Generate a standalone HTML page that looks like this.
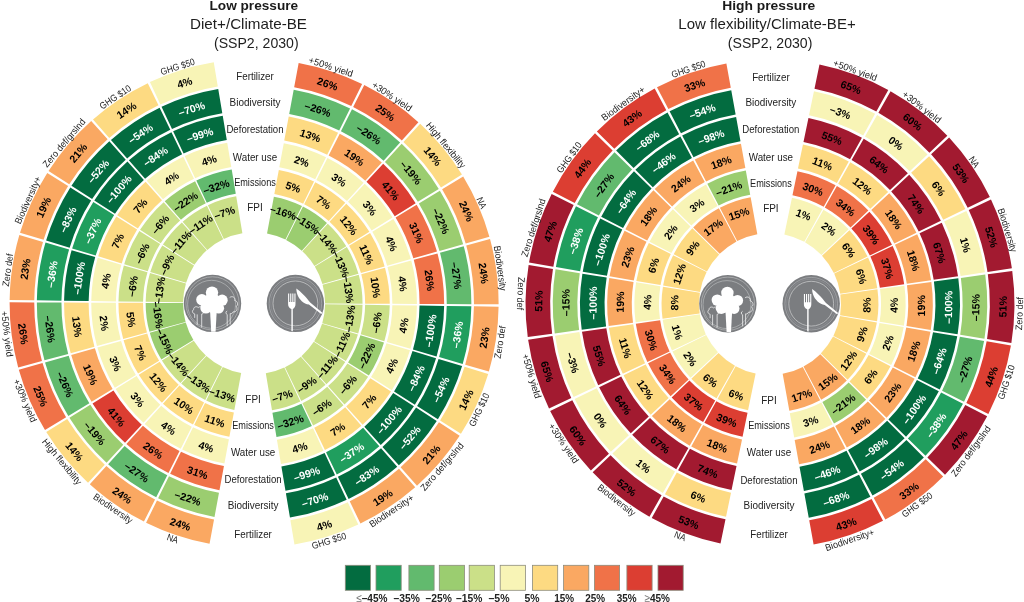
<!DOCTYPE html>
<html><head><meta charset="utf-8"><title>Low pressure / High pressure</title>
<style>
html,body{margin:0;padding:0;background:#fff}
svg{display:block}
text{font-family:"Liberation Sans",sans-serif;}
.v text{font-weight:bold;font-size:10.6px;text-anchor:middle}
.v text.lab{font-weight:normal;font-size:9.5px;fill:#222}
.rl{font-size:11px;text-anchor:middle;fill:#222}
.tb{font-weight:bold;font-size:12.6px;text-anchor:middle;fill:#1a1a1a}
.tt{font-size:14.2px;text-anchor:middle;fill:#1e1e1e}
.lg{font-weight:bold;font-size:11.6px;fill:#222}
.gl{font-weight:normal;fill:#777}
</style></head><body>
<svg width="1024" height="602" viewBox="0 0 1024 602">
<rect width="1024" height="602" fill="#fff"/>
<g>
<path d="M298.66 62.89A244.5 244.5 0 0 1 362.12 83.96L351.23 106.07A219.85 219.85 0 0 0 294.16 87.13Z" fill="#f07248"/>
<path d="M293.69 89.69A217.25 217.25 0 0 1 350.09 108.4L339.22 130.47A192.65 192.65 0 0 0 289.21 113.88Z" fill="#62ba6e"/>
<path d="M288.73 116.43A190.05 190.05 0 0 1 338.07 132.81L327.2 154.87A165.45 165.45 0 0 0 284.25 140.62Z" fill="#fdda82"/>
<path d="M283.78 143.18A162.85 162.85 0 0 1 326.05 157.21L315.18 179.28A138.25 138.25 0 0 0 279.29 167.37Z" fill="#f8f4b6"/>
<path d="M278.82 169.92A135.65 135.65 0 0 1 314.03 181.61L303.16 203.68A111.05 111.05 0 0 0 274.34 194.11Z" fill="#fdda82"/>
<path d="M273.86 196.67A108.45 108.45 0 0 1 302.02 206.01L285.47 239.61A71 71 0 0 0 267.04 233.49Z" fill="#9bcd70"/>
<path d="M364.26 85.02A244.5 244.5 0 0 1 418.4 122.23L401.83 140.49A219.85 219.85 0 0 0 353.16 107.03Z" fill="#f07248"/>
<path d="M351.99 109.35A217.25 217.25 0 0 1 400.09 142.41L383.56 160.63A192.65 192.65 0 0 0 340.9 131.31Z" fill="#62ba6e"/>
<path d="M339.73 133.63A190.05 190.05 0 0 1 381.81 162.55L365.28 180.77A165.45 165.45 0 0 0 328.65 155.6Z" fill="#faa862"/>
<path d="M327.47 157.92A162.85 162.85 0 0 1 363.53 182.7L347 200.92A138.25 138.25 0 0 0 316.39 179.88Z" fill="#f8f4b6"/>
<path d="M315.22 182.2A135.65 135.65 0 0 1 345.25 202.84L328.72 221.06A111.05 111.05 0 0 0 304.14 204.16Z" fill="#fdda82"/>
<path d="M302.96 206.48A108.45 108.45 0 0 1 326.98 222.99L301.81 250.72A71 71 0 0 0 286.09 239.92Z" fill="#9bcd70"/>
<path d="M420.16 123.85A244.5 244.5 0 0 1 461.94 174.53L440.99 187.51A219.85 219.85 0 0 0 403.42 141.94Z" fill="#fdda82"/>
<path d="M401.65 143.85A217.25 217.25 0 0 1 438.78 188.88L417.87 201.84A192.65 192.65 0 0 0 384.95 161.9Z" fill="#9bcd70"/>
<path d="M383.18 163.81A190.05 190.05 0 0 1 415.66 203.21L394.75 216.16A165.45 165.45 0 0 0 366.47 181.87Z" fill="#dc3e32"/>
<path d="M364.71 183.77A162.85 162.85 0 0 1 392.53 217.53L371.62 230.49A138.25 138.25 0 0 0 348 201.83Z" fill="#f8f4b6"/>
<path d="M346.23 203.74A135.65 135.65 0 0 1 369.41 231.86L348.5 244.81A111.05 111.05 0 0 0 329.52 221.79Z" fill="#fdda82"/>
<path d="M327.76 223.7A108.45 108.45 0 0 1 346.29 246.18L314.46 265.91A71 71 0 0 0 302.32 251.19Z" fill="#cbe088"/>
<path d="M463.19 176.57A244.5 244.5 0 0 1 489.39 236.81L465.66 243.51A219.85 219.85 0 0 0 442.11 189.35Z" fill="#faa862"/>
<path d="M439.89 190.69A217.25 217.25 0 0 1 463.16 244.22L439.49 250.91A192.65 192.65 0 0 0 418.85 203.44Z" fill="#9bcd70"/>
<path d="M416.63 204.79A190.05 190.05 0 0 1 436.99 251.62L413.31 258.31A165.45 165.45 0 0 0 395.59 217.54Z" fill="#f07248"/>
<path d="M393.37 218.89A162.85 162.85 0 0 1 410.81 259.01L387.14 265.7A138.25 138.25 0 0 0 372.33 231.64Z" fill="#f8f4b6"/>
<path d="M370.11 232.99A135.65 135.65 0 0 1 384.64 266.41L360.96 273.1A111.05 111.05 0 0 0 349.07 245.74Z" fill="#fdda82"/>
<path d="M346.84 247.09A108.45 108.45 0 0 1 358.46 273.81L322.42 283.99A71 71 0 0 0 314.82 266.5Z" fill="#cbe088"/>
<path d="M490.02 239.11A244.5 244.5 0 0 1 498.6 304.24L473.95 304.14A219.85 219.85 0 0 0 466.24 245.58Z" fill="#faa862"/>
<path d="M463.73 246.27A217.25 217.25 0 0 1 471.35 304.13L446.75 304.04A192.65 192.65 0 0 0 439.99 252.72Z" fill="#62ba6e"/>
<path d="M437.48 253.41A190.05 190.05 0 0 1 444.15 304.03L419.55 303.94A165.45 165.45 0 0 0 413.75 259.87Z" fill="#f07248"/>
<path d="M411.24 260.55A162.85 162.85 0 0 1 416.95 303.93L392.35 303.83A138.25 138.25 0 0 0 387.5 267.01Z" fill="#f8f4b6"/>
<path d="M384.99 267.69A135.65 135.65 0 0 1 389.75 303.82L365.15 303.73A111.05 111.05 0 0 0 361.25 274.15Z" fill="#fdda82"/>
<path d="M358.75 274.83A108.45 108.45 0 0 1 362.55 303.72L325.1 303.57A71 71 0 0 0 322.61 284.66Z" fill="#cbe088"/>
<path d="M498.58 306.63A244.5 244.5 0 0 1 488.87 371.6L465.2 364.71A219.85 219.85 0 0 0 473.93 306.29Z" fill="#faa862"/>
<path d="M471.33 306.26A217.25 217.25 0 0 1 462.7 363.98L439.08 357.11A192.65 192.65 0 0 0 446.73 305.92Z" fill="#209e5e"/>
<path d="M444.13 305.89A190.05 190.05 0 0 1 436.59 356.39L412.96 349.51A165.45 165.45 0 0 0 419.53 305.55Z" fill="#036c40"/>
<path d="M416.93 305.52A162.85 162.85 0 0 1 410.47 348.79L386.85 341.92A138.25 138.25 0 0 0 392.34 305.18Z" fill="#f8f4b6"/>
<path d="M389.74 305.15A135.65 135.65 0 0 1 384.35 341.19L360.73 334.32A111.05 111.05 0 0 0 365.14 304.81Z" fill="#cbe088"/>
<path d="M362.54 304.78A108.45 108.45 0 0 1 358.23 333.59L322.27 323.13A71 71 0 0 0 325.09 304.27Z" fill="#cbe088"/>
<path d="M488.19 373.89A244.5 244.5 0 0 1 460.95 433.66L440.09 420.52A219.85 219.85 0 0 0 464.59 366.77Z" fill="#fdda82"/>
<path d="M462.1 366.02A217.25 217.25 0 0 1 437.9 419.13L417.08 406.02A192.65 192.65 0 0 0 438.55 358.92Z" fill="#036c40"/>
<path d="M436.06 358.17A190.05 190.05 0 0 1 414.88 404.63L394.07 391.51A165.45 165.45 0 0 0 412.51 351.07Z" fill="#036c40"/>
<path d="M410.02 350.31A162.85 162.85 0 0 1 391.87 390.13L371.06 377.01A138.25 138.25 0 0 0 386.46 343.21Z" fill="#f8f4b6"/>
<path d="M383.97 342.46A135.65 135.65 0 0 1 368.86 375.62L348.05 362.51A111.05 111.05 0 0 0 360.42 335.36Z" fill="#9bcd70"/>
<path d="M357.93 334.61A108.45 108.45 0 0 1 345.85 361.12L314.17 341.16A71 71 0 0 0 322.08 323.8Z" fill="#cbe088"/>
<path d="M459.66 435.68A244.5 244.5 0 0 1 417 485.63L400.58 467.24A219.85 219.85 0 0 0 438.94 422.33Z" fill="#faa862"/>
<path d="M436.75 420.92A217.25 217.25 0 0 1 398.85 465.31L382.46 446.96A192.65 192.65 0 0 0 416.07 407.6Z" fill="#036c40"/>
<path d="M413.89 406.2A190.05 190.05 0 0 1 380.73 445.02L364.33 426.68A165.45 165.45 0 0 0 393.2 392.88Z" fill="#036c40"/>
<path d="M391.02 391.47A162.85 162.85 0 0 1 362.6 424.74L346.21 406.39A138.25 138.25 0 0 0 370.33 378.15Z" fill="#fdda82"/>
<path d="M368.15 376.74A135.65 135.65 0 0 1 344.48 404.46L328.09 386.11A111.05 111.05 0 0 0 347.47 363.42Z" fill="#cbe088"/>
<path d="M345.28 362.02A108.45 108.45 0 0 1 326.36 384.17L301.41 356.25A71 71 0 0 0 313.79 341.74Z" fill="#cbe088"/>
<path d="M415.21 487.21A244.5 244.5 0 0 1 360.44 523.47L349.72 501.27A219.85 219.85 0 0 0 398.97 468.67Z" fill="#faa862"/>
<path d="M397.26 466.71A217.25 217.25 0 0 1 348.59 498.93L337.89 476.78A192.65 192.65 0 0 0 381.05 448.21Z" fill="#036c40"/>
<path d="M379.33 446.25A190.05 190.05 0 0 1 336.76 474.43L326.06 452.28A165.45 165.45 0 0 0 363.12 427.75Z" fill="#209e5e"/>
<path d="M361.41 425.79A162.85 162.85 0 0 1 324.93 449.94L314.23 427.79A138.25 138.25 0 0 0 345.2 407.29Z" fill="#fdda82"/>
<path d="M343.49 405.33A135.65 135.65 0 0 1 313.1 425.45L302.4 403.3A111.05 111.05 0 0 0 327.28 386.83Z" fill="#cbe088"/>
<path d="M325.56 384.87A108.45 108.45 0 0 1 301.27 400.96L284.98 367.23A71 71 0 0 0 300.89 356.71Z" fill="#cbe088"/>
<path d="M358.28 524.49A244.5 244.5 0 0 1 294.45 544.45L290.39 520.13A219.85 219.85 0 0 0 347.78 502.19Z" fill="#f8f4b6"/>
<path d="M346.67 499.84A217.25 217.25 0 0 1 289.96 517.57L285.9 493.31A192.65 192.65 0 0 0 336.19 477.59Z" fill="#036c40"/>
<path d="M335.08 475.23A190.05 190.05 0 0 1 285.47 490.74L281.41 466.48A165.45 165.45 0 0 0 324.6 452.98Z" fill="#036c40"/>
<path d="M323.49 450.63A162.85 162.85 0 0 1 280.98 463.92L276.92 439.65A138.25 138.25 0 0 0 313.01 428.37Z" fill="#f8f4b6"/>
<path d="M311.9 426.02A135.65 135.65 0 0 1 276.49 437.09L272.43 412.83A111.05 111.05 0 0 0 301.42 403.76Z" fill="#62ba6e"/>
<path d="M300.31 401.41A108.45 108.45 0 0 1 272 410.26L265.82 373.33A71 71 0 0 0 284.35 367.53Z" fill="#cbe088"/>
<path d="M209.54 543.71A244.5 244.5 0 0 1 146.08 522.64L156.97 500.53A219.85 219.85 0 0 0 214.04 519.47Z" fill="#faa862"/>
<path d="M214.51 516.91A217.25 217.25 0 0 1 158.11 498.2L168.98 476.13A192.65 192.65 0 0 0 218.99 492.72Z" fill="#9bcd70"/>
<path d="M219.47 490.17A190.05 190.05 0 0 1 170.13 473.79L181 451.73A165.45 165.45 0 0 0 223.95 465.98Z" fill="#f07248"/>
<path d="M224.42 463.42A162.85 162.85 0 0 1 182.15 449.39L193.02 427.32A138.25 138.25 0 0 0 228.91 439.23Z" fill="#f8f4b6"/>
<path d="M229.38 436.68A135.65 135.65 0 0 1 194.17 424.99L205.04 402.92A111.05 111.05 0 0 0 233.86 412.49Z" fill="#fdda82"/>
<path d="M234.34 409.93A108.45 108.45 0 0 1 206.18 400.59L222.73 366.99A71 71 0 0 0 241.16 373.11Z" fill="#cbe088"/>
<path d="M143.94 521.58A244.5 244.5 0 0 1 89.8 484.37L106.37 466.11A219.85 219.85 0 0 0 155.04 499.57Z" fill="#faa862"/>
<path d="M156.21 497.25A217.25 217.25 0 0 1 108.11 464.19L124.64 445.97A192.65 192.65 0 0 0 167.3 475.29Z" fill="#62ba6e"/>
<path d="M168.47 472.97A190.05 190.05 0 0 1 126.39 444.05L142.92 425.83A165.45 165.45 0 0 0 179.55 451Z" fill="#f07248"/>
<path d="M180.73 448.68A162.85 162.85 0 0 1 144.67 423.9L161.2 405.68A138.25 138.25 0 0 0 191.81 426.72Z" fill="#f8f4b6"/>
<path d="M192.98 424.4A135.65 135.65 0 0 1 162.95 403.76L179.48 385.54A111.05 111.05 0 0 0 204.06 402.44Z" fill="#fdda82"/>
<path d="M205.24 400.12A108.45 108.45 0 0 1 181.22 383.61L206.39 355.88A71 71 0 0 0 222.11 366.68Z" fill="#cbe088"/>
<path d="M88.04 482.75A244.5 244.5 0 0 1 46.26 432.07L67.21 419.09A219.85 219.85 0 0 0 104.78 464.66Z" fill="#fdda82"/>
<path d="M106.55 462.75A217.25 217.25 0 0 1 69.42 417.72L90.33 404.76A192.65 192.65 0 0 0 123.25 444.7Z" fill="#9bcd70"/>
<path d="M125.02 442.79A190.05 190.05 0 0 1 92.54 403.39L113.45 390.44A165.45 165.45 0 0 0 141.73 424.73Z" fill="#dc3e32"/>
<path d="M143.49 422.83A162.85 162.85 0 0 1 115.67 389.07L136.58 376.11A138.25 138.25 0 0 0 160.2 404.77Z" fill="#f8f4b6"/>
<path d="M161.97 402.86A135.65 135.65 0 0 1 138.79 374.74L159.7 361.79A111.05 111.05 0 0 0 178.68 384.81Z" fill="#fdda82"/>
<path d="M180.44 382.9A108.45 108.45 0 0 1 161.91 360.42L193.74 340.69A71 71 0 0 0 205.88 355.41Z" fill="#cbe088"/>
<path d="M45.01 430.03A244.5 244.5 0 0 1 18.81 369.79L42.54 363.09A219.85 219.85 0 0 0 66.09 417.25Z" fill="#f07248"/>
<path d="M68.31 415.91A217.25 217.25 0 0 1 45.04 362.38L68.71 355.69A192.65 192.65 0 0 0 89.35 403.16Z" fill="#62ba6e"/>
<path d="M91.57 401.81A190.05 190.05 0 0 1 71.21 354.98L94.89 348.29A165.45 165.45 0 0 0 112.61 389.06Z" fill="#faa862"/>
<path d="M114.83 387.71A162.85 162.85 0 0 1 97.39 347.59L121.06 340.9A138.25 138.25 0 0 0 135.87 374.96Z" fill="#f8f4b6"/>
<path d="M138.09 373.61A135.65 135.65 0 0 1 123.56 340.19L147.24 333.5A111.05 111.05 0 0 0 159.13 360.86Z" fill="#fdda82"/>
<path d="M161.36 359.51A108.45 108.45 0 0 1 149.74 332.79L185.78 322.61A71 71 0 0 0 193.38 340.1Z" fill="#9bcd70"/>
<path d="M18.18 367.49A244.5 244.5 0 0 1 9.6 302.36L34.25 302.46A219.85 219.85 0 0 0 41.96 361.02Z" fill="#f07248"/>
<path d="M44.47 360.33A217.25 217.25 0 0 1 36.85 302.47L61.45 302.56A192.65 192.65 0 0 0 68.21 353.88Z" fill="#62ba6e"/>
<path d="M70.72 353.19A190.05 190.05 0 0 1 64.05 302.57L88.65 302.66A165.45 165.45 0 0 0 94.45 346.73Z" fill="#fdda82"/>
<path d="M96.96 346.05A162.85 162.85 0 0 1 91.25 302.67L115.85 302.77A138.25 138.25 0 0 0 120.7 339.59Z" fill="#f8f4b6"/>
<path d="M123.21 338.91A135.65 135.65 0 0 1 118.45 302.78L143.05 302.87A111.05 111.05 0 0 0 146.95 332.45Z" fill="#fdda82"/>
<path d="M149.45 331.77A108.45 108.45 0 0 1 145.65 302.88L183.1 303.03A71 71 0 0 0 185.59 321.94Z" fill="#9bcd70"/>
<path d="M9.62 299.97A244.5 244.5 0 0 1 19.33 235L43 241.89A219.85 219.85 0 0 0 34.27 300.31Z" fill="#faa862"/>
<path d="M36.87 300.34A217.25 217.25 0 0 1 45.5 242.62L69.12 249.49A192.65 192.65 0 0 0 61.47 300.68Z" fill="#209e5e"/>
<path d="M64.07 300.71A190.05 190.05 0 0 1 71.61 250.21L95.24 257.09A165.45 165.45 0 0 0 88.67 301.05Z" fill="#036c40"/>
<path d="M91.27 301.08A162.85 162.85 0 0 1 97.73 257.81L121.35 264.68A138.25 138.25 0 0 0 115.86 301.42Z" fill="#f8f4b6"/>
<path d="M118.46 301.45A135.65 135.65 0 0 1 123.85 265.41L147.47 272.28A111.05 111.05 0 0 0 143.06 301.79Z" fill="#cbe088"/>
<path d="M145.66 301.82A108.45 108.45 0 0 1 149.97 273.01L185.93 283.47A71 71 0 0 0 183.11 302.33Z" fill="#cbe088"/>
<path d="M20.01 232.71A244.5 244.5 0 0 1 47.25 172.94L68.11 186.08A219.85 219.85 0 0 0 43.61 239.83Z" fill="#faa862"/>
<path d="M46.1 240.58A217.25 217.25 0 0 1 70.3 187.47L91.12 200.58A192.65 192.65 0 0 0 69.65 247.68Z" fill="#036c40"/>
<path d="M72.14 248.43A190.05 190.05 0 0 1 93.32 201.97L114.13 215.09A165.45 165.45 0 0 0 95.69 255.53Z" fill="#209e5e"/>
<path d="M98.18 256.29A162.85 162.85 0 0 1 116.33 216.47L137.14 229.59A138.25 138.25 0 0 0 121.74 263.39Z" fill="#fdda82"/>
<path d="M124.23 264.14A135.65 135.65 0 0 1 139.34 230.98L160.15 244.09A111.05 111.05 0 0 0 147.78 271.24Z" fill="#cbe088"/>
<path d="M150.27 271.99A108.45 108.45 0 0 1 162.35 245.48L194.03 265.44A71 71 0 0 0 186.12 282.8Z" fill="#cbe088"/>
<path d="M48.54 170.92A244.5 244.5 0 0 1 91.2 120.97L107.62 139.36A219.85 219.85 0 0 0 69.26 184.27Z" fill="#faa862"/>
<path d="M71.45 185.68A217.25 217.25 0 0 1 109.35 141.29L125.74 159.64A192.65 192.65 0 0 0 92.13 199Z" fill="#036c40"/>
<path d="M94.31 200.4A190.05 190.05 0 0 1 127.47 161.58L143.87 179.92A165.45 165.45 0 0 0 115 213.72Z" fill="#036c40"/>
<path d="M117.18 215.13A162.85 162.85 0 0 1 145.6 181.86L161.99 200.21A138.25 138.25 0 0 0 137.87 228.45Z" fill="#fdda82"/>
<path d="M140.05 229.86A135.65 135.65 0 0 1 163.72 202.14L180.11 220.49A111.05 111.05 0 0 0 160.73 243.18Z" fill="#cbe088"/>
<path d="M162.92 244.58A108.45 108.45 0 0 1 181.84 222.43L206.79 250.35A71 71 0 0 0 194.41 264.86Z" fill="#cbe088"/>
<path d="M92.99 119.39A244.5 244.5 0 0 1 147.76 83.13L158.48 105.33A219.85 219.85 0 0 0 109.23 137.93Z" fill="#fdda82"/>
<path d="M110.94 139.89A217.25 217.25 0 0 1 159.61 107.67L170.31 129.82A192.65 192.65 0 0 0 127.15 158.39Z" fill="#036c40"/>
<path d="M128.87 160.35A190.05 190.05 0 0 1 171.44 132.17L182.14 154.32A165.45 165.45 0 0 0 145.08 178.85Z" fill="#036c40"/>
<path d="M146.79 180.81A162.85 162.85 0 0 1 183.27 156.66L193.97 178.81A138.25 138.25 0 0 0 163 199.31Z" fill="#f8f4b6"/>
<path d="M164.71 201.27A135.65 135.65 0 0 1 195.1 181.15L205.8 203.3A111.05 111.05 0 0 0 180.92 219.77Z" fill="#9bcd70"/>
<path d="M182.64 221.73A108.45 108.45 0 0 1 206.93 205.64L223.22 239.37A71 71 0 0 0 207.31 249.89Z" fill="#cbe088"/>
<path d="M149.92 82.11A244.5 244.5 0 0 1 213.75 62.15L217.81 86.47A219.85 219.85 0 0 0 160.42 104.41Z" fill="#f8f4b6"/>
<path d="M161.53 106.76A217.25 217.25 0 0 1 218.24 89.03L222.3 113.29A192.65 192.65 0 0 0 172.01 129.01Z" fill="#036c40"/>
<path d="M173.12 131.37A190.05 190.05 0 0 1 222.73 115.86L226.79 140.12A165.45 165.45 0 0 0 183.6 153.62Z" fill="#036c40"/>
<path d="M184.71 155.97A162.85 162.85 0 0 1 227.22 142.68L231.28 166.95A138.25 138.25 0 0 0 195.19 178.23Z" fill="#f8f4b6"/>
<path d="M196.3 180.58A135.65 135.65 0 0 1 231.71 169.51L235.77 193.77A111.05 111.05 0 0 0 206.78 202.84Z" fill="#62ba6e"/>
<path d="M207.89 205.19A108.45 108.45 0 0 1 236.2 196.34L242.38 233.27A71 71 0 0 0 223.85 239.07Z" fill="#cbe088"/>
</g>
<g>
<path d="M819.48 64.56A244.5 244.5 0 0 1 888.27 90.01L876.35 111.58A219.85 219.85 0 0 0 814.49 88.7Z" fill="#a21a30"/>
<path d="M813.96 91.25A217.25 217.25 0 0 1 875.09 113.86L863.19 135.39A192.65 192.65 0 0 0 808.99 115.34Z" fill="#f8f4b6"/>
<path d="M808.46 117.88A190.05 190.05 0 0 1 861.93 137.66L850.03 159.2A165.45 165.45 0 0 0 803.48 141.97Z" fill="#a21a30"/>
<path d="M802.96 144.52A162.85 162.85 0 0 1 848.78 161.47L836.88 183A138.25 138.25 0 0 0 797.98 168.61Z" fill="#fdda82"/>
<path d="M797.45 171.16A135.65 135.65 0 0 1 835.62 185.28L823.72 206.81A111.05 111.05 0 0 0 792.47 195.25Z" fill="#f07248"/>
<path d="M791.95 197.79A108.45 108.45 0 0 1 822.46 209.08L804.34 241.86A71 71 0 0 0 784.37 234.47Z" fill="#f8f4b6"/>
<path d="M890.56 91.29A244.5 244.5 0 0 1 947.33 135.67L929.45 152.64A219.85 219.85 0 0 0 878.41 112.74Z" fill="#a21a30"/>
<path d="M877.12 115A217.25 217.25 0 0 1 927.56 154.43L909.72 171.36A192.65 192.65 0 0 0 864.99 136.4Z" fill="#f8f4b6"/>
<path d="M863.71 138.66A190.05 190.05 0 0 1 907.84 173.15L889.99 190.09A165.45 165.45 0 0 0 851.58 160.06Z" fill="#a21a30"/>
<path d="M850.3 162.32A162.85 162.85 0 0 1 888.11 191.88L870.27 208.82A138.25 138.25 0 0 0 838.17 183.73Z" fill="#fdda82"/>
<path d="M836.89 185.99A135.65 135.65 0 0 1 868.38 210.61L850.54 227.54A111.05 111.05 0 0 0 824.76 207.39Z" fill="#f07248"/>
<path d="M823.48 209.65A108.45 108.45 0 0 1 848.65 229.33L821.49 255.12A71 71 0 0 0 805.01 242.23Z" fill="#f8f4b6"/>
<path d="M949.12 137.58A244.5 244.5 0 0 1 989.85 197.01L967.69 207.8A219.85 219.85 0 0 0 931.06 154.36Z" fill="#a21a30"/>
<path d="M929.16 156.13A217.25 217.25 0 0 1 965.35 208.94L943.23 219.7A192.65 192.65 0 0 0 911.14 172.87Z" fill="#fdda82"/>
<path d="M909.23 174.64A190.05 190.05 0 0 1 940.89 220.84L918.77 231.6A165.45 165.45 0 0 0 891.21 191.39Z" fill="#a21a30"/>
<path d="M889.3 193.15A162.85 162.85 0 0 1 916.43 232.74L894.31 243.51A138.25 138.25 0 0 0 871.28 209.9Z" fill="#faa862"/>
<path d="M869.38 211.67A135.65 135.65 0 0 1 891.97 244.64L869.85 255.41A111.05 111.05 0 0 0 851.36 228.41Z" fill="#dc3e32"/>
<path d="M849.45 230.18A108.45 108.45 0 0 1 867.52 256.55L833.84 272.93A71 71 0 0 0 822.01 255.67Z" fill="#fdda82"/>
<path d="M990.99 199.38A244.5 244.5 0 0 1 1011.88 268.33L987.5 271.93A219.85 219.85 0 0 0 968.71 209.93Z" fill="#a21a30"/>
<path d="M966.36 211.04A217.25 217.25 0 0 1 984.93 272.31L960.59 275.9A192.65 192.65 0 0 0 944.12 221.57Z" fill="#f8f4b6"/>
<path d="M941.77 222.68A190.05 190.05 0 0 1 958.02 276.28L933.68 279.87A165.45 165.45 0 0 0 919.54 233.2Z" fill="#a21a30"/>
<path d="M917.19 234.32A162.85 162.85 0 0 1 931.11 280.24L906.77 283.83A138.25 138.25 0 0 0 894.95 244.84Z" fill="#faa862"/>
<path d="M892.6 245.96A135.65 135.65 0 0 1 904.2 284.21L879.86 287.8A111.05 111.05 0 0 0 870.37 256.48Z" fill="#dc3e32"/>
<path d="M868.02 257.59A108.45 108.45 0 0 1 877.29 288.18L840.24 293.64A71 71 0 0 0 834.17 273.62Z" fill="#fdda82"/>
<path d="M1012.25 270.93A244.5 244.5 0 0 1 1011.37 342.98L987.04 339.05A219.85 219.85 0 0 0 987.83 274.26Z" fill="#a21a30"/>
<path d="M985.25 274.62A217.25 217.25 0 0 1 984.47 338.63L960.19 334.71A192.65 192.65 0 0 0 960.88 277.94Z" fill="#9bcd70"/>
<path d="M958.3 278.3A190.05 190.05 0 0 1 957.62 334.3L933.33 330.38A165.45 165.45 0 0 0 933.93 281.62Z" fill="#036c40"/>
<path d="M931.35 281.97A162.85 162.85 0 0 1 930.77 329.96L906.48 326.04A138.25 138.25 0 0 0 906.98 285.3Z" fill="#faa862"/>
<path d="M904.4 285.65A135.65 135.65 0 0 1 903.92 325.63L879.63 321.7A111.05 111.05 0 0 0 880.03 288.98Z" fill="#f8f4b6"/>
<path d="M877.45 289.33A108.45 108.45 0 0 1 877.06 321.29L840.09 315.32A71 71 0 0 0 840.35 294.4Z" fill="#fdda82"/>
<path d="M1010.94 345.56A244.5 244.5 0 0 1 988.36 413.99L966.35 402.9A219.85 219.85 0 0 0 986.65 341.37Z" fill="#dc3e32"/>
<path d="M984.09 340.93A217.25 217.25 0 0 1 964.03 401.73L942.06 390.66A192.65 192.65 0 0 0 959.85 336.75Z" fill="#62ba6e"/>
<path d="M957.28 336.31A190.05 190.05 0 0 1 939.73 389.49L917.76 378.43A165.45 165.45 0 0 0 933.04 332.13Z" fill="#036c40"/>
<path d="M930.48 331.68A162.85 162.85 0 0 1 915.44 377.26L893.47 366.19A138.25 138.25 0 0 0 906.24 327.5Z" fill="#faa862"/>
<path d="M903.68 327.06A135.65 135.65 0 0 1 891.15 365.02L869.18 353.96A111.05 111.05 0 0 0 879.43 322.88Z" fill="#f8f4b6"/>
<path d="M876.87 322.44A108.45 108.45 0 0 1 866.86 352.79L833.41 335.94A71 71 0 0 0 839.97 316.07Z" fill="#fdda82"/>
<path d="M987.17 416.32A244.5 244.5 0 0 1 945 474.75L927.36 457.53A219.85 219.85 0 0 0 965.28 405Z" fill="#a21a30"/>
<path d="M962.97 403.81A217.25 217.25 0 0 1 925.5 455.72L907.89 438.54A192.65 192.65 0 0 0 941.12 392.5Z" fill="#209e5e"/>
<path d="M938.81 391.31A190.05 190.05 0 0 1 906.03 436.72L888.42 419.54A165.45 165.45 0 0 0 916.96 380.01Z" fill="#036c40"/>
<path d="M914.65 378.81A162.85 162.85 0 0 1 886.56 417.73L868.95 400.55A138.25 138.25 0 0 0 892.8 367.51Z" fill="#faa862"/>
<path d="M890.49 366.32A135.65 135.65 0 0 1 867.09 398.73L849.48 381.55A111.05 111.05 0 0 0 868.64 355.02Z" fill="#fdda82"/>
<path d="M866.33 353.82A108.45 108.45 0 0 1 847.62 379.74L820.82 353.58A71 71 0 0 0 833.06 336.62Z" fill="#fdda82"/>
<path d="M943.16 476.62A244.5 244.5 0 0 1 885.33 519.59L873.7 497.86A219.85 219.85 0 0 0 925.7 459.21Z" fill="#f07248"/>
<path d="M923.86 457.38A217.25 217.25 0 0 1 872.47 495.56L860.87 473.87A192.65 192.65 0 0 0 906.44 440.01Z" fill="#036c40"/>
<path d="M904.6 438.17A190.05 190.05 0 0 1 859.64 471.58L848.04 449.89A165.45 165.45 0 0 0 887.17 420.81Z" fill="#036c40"/>
<path d="M885.33 418.97A162.85 162.85 0 0 1 846.81 447.6L835.21 425.9A138.25 138.25 0 0 0 867.91 401.6Z" fill="#faa862"/>
<path d="M866.07 399.77A135.65 135.65 0 0 1 833.98 423.61L822.38 401.92A111.05 111.05 0 0 0 848.65 382.4Z" fill="#9bcd70"/>
<path d="M846.81 380.56A108.45 108.45 0 0 1 821.15 399.63L803.49 366.61A71 71 0 0 0 820.28 354.13Z" fill="#faa862"/>
<path d="M883.01 520.82A244.5 244.5 0 0 1 813.61 544.58L809.22 520.32A219.85 219.85 0 0 0 871.62 498.96Z" fill="#dc3e32"/>
<path d="M870.41 496.65A217.25 217.25 0 0 1 808.75 517.77L804.37 493.56A192.65 192.65 0 0 0 859.04 474.84Z" fill="#036c40"/>
<path d="M857.84 472.53A190.05 190.05 0 0 1 803.9 491L799.51 466.8A165.45 165.45 0 0 0 846.47 450.72Z" fill="#036c40"/>
<path d="M845.27 448.41A162.85 162.85 0 0 1 799.05 464.24L794.66 440.03A138.25 138.25 0 0 0 833.9 426.6Z" fill="#faa862"/>
<path d="M832.7 424.29A135.65 135.65 0 0 1 794.2 437.47L789.81 413.27A111.05 111.05 0 0 0 821.33 402.48Z" fill="#f8f4b6"/>
<path d="M820.13 400.17A108.45 108.45 0 0 1 789.35 410.71L782.67 373.86A71 71 0 0 0 802.82 366.96Z" fill="#faa862"/>
<path d="M720.52 543.44A244.5 244.5 0 0 1 651.73 517.99L663.65 496.42A219.85 219.85 0 0 0 725.51 519.3Z" fill="#a21a30"/>
<path d="M726.04 516.75A217.25 217.25 0 0 1 664.91 494.14L676.81 472.61A192.65 192.65 0 0 0 731.01 492.66Z" fill="#fdda82"/>
<path d="M731.54 490.12A190.05 190.05 0 0 1 678.07 470.34L689.97 448.8A165.45 165.45 0 0 0 736.52 466.03Z" fill="#a21a30"/>
<path d="M737.04 463.48A162.85 162.85 0 0 1 691.22 446.53L703.12 425A138.25 138.25 0 0 0 742.02 439.39Z" fill="#faa862"/>
<path d="M742.55 436.84A135.65 135.65 0 0 1 704.38 422.72L716.28 401.19A111.05 111.05 0 0 0 747.53 412.75Z" fill="#dc3e32"/>
<path d="M748.05 410.21A108.45 108.45 0 0 1 717.54 398.92L735.66 366.14A71 71 0 0 0 755.63 373.53Z" fill="#fdda82"/>
<path d="M649.44 516.71A244.5 244.5 0 0 1 592.67 472.33L610.55 455.36A219.85 219.85 0 0 0 661.59 495.26Z" fill="#a21a30"/>
<path d="M662.88 493A217.25 217.25 0 0 1 612.44 453.57L630.28 436.64A192.65 192.65 0 0 0 675.01 471.6Z" fill="#f8f4b6"/>
<path d="M676.29 469.34A190.05 190.05 0 0 1 632.16 434.85L650.01 417.91A165.45 165.45 0 0 0 688.42 447.94Z" fill="#a21a30"/>
<path d="M689.7 445.68A162.85 162.85 0 0 1 651.89 416.12L669.73 399.18A138.25 138.25 0 0 0 701.83 424.27Z" fill="#faa862"/>
<path d="M703.11 422.01A135.65 135.65 0 0 1 671.62 397.39L689.46 380.46A111.05 111.05 0 0 0 715.24 400.61Z" fill="#dc3e32"/>
<path d="M716.52 398.35A108.45 108.45 0 0 1 691.35 378.67L718.51 352.88A71 71 0 0 0 734.99 365.77Z" fill="#fdda82"/>
<path d="M590.88 470.42A244.5 244.5 0 0 1 550.15 410.99L572.31 400.2A219.85 219.85 0 0 0 608.94 453.64Z" fill="#a21a30"/>
<path d="M610.84 451.87A217.25 217.25 0 0 1 574.65 399.06L596.77 388.3A192.65 192.65 0 0 0 628.86 435.13Z" fill="#f8f4b6"/>
<path d="M630.77 433.36A190.05 190.05 0 0 1 599.11 387.16L621.23 376.4A165.45 165.45 0 0 0 648.79 416.61Z" fill="#a21a30"/>
<path d="M650.7 414.85A162.85 162.85 0 0 1 623.57 375.26L645.69 364.49A138.25 138.25 0 0 0 668.72 398.1Z" fill="#fdda82"/>
<path d="M670.62 396.33A135.65 135.65 0 0 1 648.03 363.36L670.15 352.59A111.05 111.05 0 0 0 688.64 379.59Z" fill="#f07248"/>
<path d="M690.55 377.82A108.45 108.45 0 0 1 672.48 351.45L706.16 335.07A71 71 0 0 0 717.99 352.33Z" fill="#f8f4b6"/>
<path d="M549.01 408.62A244.5 244.5 0 0 1 528.12 339.67L552.5 336.07A219.85 219.85 0 0 0 571.29 398.07Z" fill="#a21a30"/>
<path d="M573.64 396.96A217.25 217.25 0 0 1 555.07 335.69L579.41 332.1A192.65 192.65 0 0 0 595.88 386.43Z" fill="#f8f4b6"/>
<path d="M598.23 385.32A190.05 190.05 0 0 1 581.98 331.72L606.32 328.13A165.45 165.45 0 0 0 620.46 374.8Z" fill="#a21a30"/>
<path d="M622.81 373.68A162.85 162.85 0 0 1 608.89 327.76L633.23 324.17A138.25 138.25 0 0 0 645.05 363.16Z" fill="#fdda82"/>
<path d="M647.4 362.04A135.65 135.65 0 0 1 635.8 323.79L660.14 320.2A111.05 111.05 0 0 0 669.63 351.52Z" fill="#f07248"/>
<path d="M671.98 350.41A108.45 108.45 0 0 1 662.71 319.82L699.76 314.36A71 71 0 0 0 705.83 334.38Z" fill="#f8f4b6"/>
<path d="M527.75 337.07A244.5 244.5 0 0 1 528.63 265.02L552.96 268.95A219.85 219.85 0 0 0 552.17 333.74Z" fill="#a21a30"/>
<path d="M554.75 333.38A217.25 217.25 0 0 1 555.53 269.37L579.81 273.29A192.65 192.65 0 0 0 579.12 330.06Z" fill="#9bcd70"/>
<path d="M581.7 329.7A190.05 190.05 0 0 1 582.38 273.7L606.67 277.62A165.45 165.45 0 0 0 606.07 326.38Z" fill="#036c40"/>
<path d="M608.65 326.03A162.85 162.85 0 0 1 609.23 278.04L633.52 281.96A138.25 138.25 0 0 0 633.02 322.7Z" fill="#faa862"/>
<path d="M635.6 322.35A135.65 135.65 0 0 1 636.08 282.37L660.37 286.3A111.05 111.05 0 0 0 659.97 319.02Z" fill="#f8f4b6"/>
<path d="M662.55 318.67A108.45 108.45 0 0 1 662.94 286.71L699.91 292.68A71 71 0 0 0 699.65 313.6Z" fill="#fdda82"/>
<path d="M529.06 262.44A244.5 244.5 0 0 1 551.64 194.01L573.65 205.1A219.85 219.85 0 0 0 553.35 266.63Z" fill="#a21a30"/>
<path d="M555.91 267.07A217.25 217.25 0 0 1 575.97 206.27L597.94 217.34A192.65 192.65 0 0 0 580.15 271.25Z" fill="#209e5e"/>
<path d="M582.72 271.69A190.05 190.05 0 0 1 600.27 218.51L622.24 229.57A165.45 165.45 0 0 0 606.96 275.87Z" fill="#036c40"/>
<path d="M609.52 276.32A162.85 162.85 0 0 1 624.56 230.74L646.53 241.81A138.25 138.25 0 0 0 633.76 280.5Z" fill="#faa862"/>
<path d="M636.32 280.94A135.65 135.65 0 0 1 648.85 242.98L670.82 254.04A111.05 111.05 0 0 0 660.57 285.12Z" fill="#fdda82"/>
<path d="M663.13 285.56A108.45 108.45 0 0 1 673.14 255.21L706.59 272.06A71 71 0 0 0 700.03 291.93Z" fill="#fdda82"/>
<path d="M552.83 191.68A244.5 244.5 0 0 1 595 133.25L612.64 150.47A219.85 219.85 0 0 0 574.72 203Z" fill="#dc3e32"/>
<path d="M577.03 204.19A217.25 217.25 0 0 1 614.5 152.28L632.11 169.46A192.65 192.65 0 0 0 598.88 215.5Z" fill="#62ba6e"/>
<path d="M601.19 216.69A190.05 190.05 0 0 1 633.97 171.28L651.58 188.46A165.45 165.45 0 0 0 623.04 227.99Z" fill="#036c40"/>
<path d="M625.35 229.19A162.85 162.85 0 0 1 653.44 190.27L671.05 207.45A138.25 138.25 0 0 0 647.2 240.49Z" fill="#faa862"/>
<path d="M649.51 241.68A135.65 135.65 0 0 1 672.91 209.27L690.52 226.45A111.05 111.05 0 0 0 671.36 252.98Z" fill="#f8f4b6"/>
<path d="M673.67 254.18A108.45 108.45 0 0 1 692.38 228.26L719.18 254.42A71 71 0 0 0 706.94 271.38Z" fill="#fdda82"/>
<path d="M596.84 131.38A244.5 244.5 0 0 1 654.67 88.41L666.3 110.14A219.85 219.85 0 0 0 614.3 148.79Z" fill="#dc3e32"/>
<path d="M616.14 150.62A217.25 217.25 0 0 1 667.53 112.44L679.13 134.13A192.65 192.65 0 0 0 633.56 167.99Z" fill="#036c40"/>
<path d="M635.4 169.83A190.05 190.05 0 0 1 680.36 136.42L691.96 158.11A165.45 165.45 0 0 0 652.83 187.19Z" fill="#036c40"/>
<path d="M654.67 189.03A162.85 162.85 0 0 1 693.19 160.4L704.79 182.1A138.25 138.25 0 0 0 672.09 206.4Z" fill="#faa862"/>
<path d="M673.93 208.23A135.65 135.65 0 0 1 706.02 184.39L717.62 206.08A111.05 111.05 0 0 0 691.35 225.6Z" fill="#f8f4b6"/>
<path d="M693.19 227.44A108.45 108.45 0 0 1 718.85 208.37L736.51 241.39A71 71 0 0 0 719.72 253.87Z" fill="#faa862"/>
<path d="M656.99 87.18A244.5 244.5 0 0 1 726.39 63.42L730.78 87.68A219.85 219.85 0 0 0 668.38 109.04Z" fill="#f07248"/>
<path d="M669.59 111.35A217.25 217.25 0 0 1 731.25 90.23L735.63 114.44A192.65 192.65 0 0 0 680.96 133.16Z" fill="#036c40"/>
<path d="M682.16 135.47A190.05 190.05 0 0 1 736.1 117L740.49 141.2A165.45 165.45 0 0 0 693.53 157.28Z" fill="#036c40"/>
<path d="M694.73 159.59A162.85 162.85 0 0 1 740.95 143.76L745.34 167.97A138.25 138.25 0 0 0 706.1 181.4Z" fill="#faa862"/>
<path d="M707.3 183.71A135.65 135.65 0 0 1 745.8 170.53L750.19 194.73A111.05 111.05 0 0 0 718.67 205.52Z" fill="#9bcd70"/>
<path d="M719.87 207.83A108.45 108.45 0 0 1 750.65 197.29L757.33 234.14A71 71 0 0 0 737.18 241.04Z" fill="#faa862"/>
</g>
<g class="v">
<text transform="translate(327.76 83.15) rotate(18.5)" x="0.1" y="4.5" fill="#000">26%</text>
<text transform="translate(319.13 108.94) rotate(18.5)" x="-1.1" y="4.5" fill="#000">–26%</text>
<text transform="translate(310.5 134.74) rotate(18.5)" x="0.1" y="4.5" fill="#000">13%</text>
<text transform="translate(301.87 160.53) rotate(18.5)" x="0.1" y="4.5" fill="#000">2%</text>
<text transform="translate(293.24 186.32) rotate(18.5)" x="0.1" y="4.5" fill="#000">5%</text>
<text transform="translate(284.61 212.12) rotate(18.5)" x="-1.1" y="4.5" fill="#000">–16%</text>
<text class="lab" transform="translate(329.93 69.91) rotate(18)" textLength="46" lengthAdjust="spacingAndGlyphs">+50% yield</text>
<text transform="translate(385.59 111.98) rotate(34.5)" x="0.1" y="4.5" fill="#000">25%</text>
<text transform="translate(370.18 134.4) rotate(34.5)" x="-1.1" y="4.5" fill="#000">–26%</text>
<text transform="translate(354.78 156.81) rotate(34.5)" x="0.1" y="4.5" fill="#000">19%</text>
<text transform="translate(339.37 179.23) rotate(34.5)" x="0.1" y="4.5" fill="#000">3%</text>
<text transform="translate(323.97 201.64) rotate(34.5)" x="0.1" y="4.5" fill="#000">7%</text>
<text transform="translate(308.56 224.06) rotate(34.5)" x="-1.1" y="4.5" fill="#000">–15%</text>
<text class="lab" transform="translate(390.26 99.14) rotate(33.7)" textLength="46" lengthAdjust="spacingAndGlyphs">+30% yield</text>
<text transform="translate(433.23 155.63) rotate(50.5)" x="0.1" y="4.5" fill="#000">14%</text>
<text transform="translate(412.24 172.94) rotate(50.5)" x="-1.1" y="4.5" fill="#000">–19%</text>
<text transform="translate(391.26 190.24) rotate(50.5)" x="0.1" y="4.5" fill="#000">41%</text>
<text transform="translate(370.27 207.54) rotate(50.5)" x="0.1" y="4.5" fill="#000">3%</text>
<text transform="translate(349.28 224.84) rotate(50.5)" x="0.1" y="4.5" fill="#000">12%</text>
<text transform="translate(328.29 242.14) rotate(50.5)" x="-1.1" y="4.5" fill="#000">–14%</text>
<text class="lab" transform="translate(443.46 147.21) rotate(50.5)" textLength="56.4" lengthAdjust="spacingAndGlyphs">High flexibility</text>
<text transform="translate(467 210.73) rotate(66.5)" x="0.1" y="4.5" fill="#000">24%</text>
<text transform="translate(442.05 221.58) rotate(66.5)" x="-1.1" y="4.5" fill="#000">–22%</text>
<text transform="translate(417.11 232.42) rotate(66.5)" x="0.1" y="4.5" fill="#000">31%</text>
<text transform="translate(392.16 243.27) rotate(66.5)" x="0.1" y="4.5" fill="#000">4%</text>
<text transform="translate(367.22 254.11) rotate(66.5)" x="0.1" y="4.5" fill="#000">11%</text>
<text transform="translate(342.28 264.96) rotate(66.5)" x="-1.1" y="4.5" fill="#000">–13%</text>
<text class="lab" transform="translate(478.63 204.27) rotate(66.2)" textLength="11.5" lengthAdjust="spacingAndGlyphs">NA</text>
<text transform="translate(484.26 273) rotate(82.5)" x="0.1" y="4.5" fill="#000">24%</text>
<text transform="translate(457.3 276.55) rotate(82.5)" x="-1.1" y="4.5" fill="#000">–27%</text>
<text transform="translate(430.33 280.1) rotate(82.5)" x="0.1" y="4.5" fill="#000">26%</text>
<text transform="translate(403.36 283.65) rotate(82.5)" x="0.1" y="4.5" fill="#000">4%</text>
<text transform="translate(376.39 287.2) rotate(82.5)" x="0.1" y="4.5" fill="#000">10%</text>
<text transform="translate(349.43 290.75) rotate(82.5)" x="-1.1" y="4.5" fill="#000">–13%</text>
<text class="lab" transform="translate(497.05 268.72) rotate(81.9)" textLength="45.4" lengthAdjust="spacingAndGlyphs">Biodiversity</text>
<text transform="translate(483.7 337.61) rotate(-81.5)" x="0.1" y="4.5" fill="#000">23%</text>
<text transform="translate(456.8 333.59) rotate(-81.5)" x="-1.1" y="4.5" fill="#fff">–36%</text>
<text transform="translate(429.9 329.57) rotate(-81.5)" x="-1.1" y="4.5" fill="#fff">–100%</text>
<text transform="translate(403 325.55) rotate(-81.5)" x="0.1" y="4.5" fill="#000">4%</text>
<text transform="translate(376.1 321.53) rotate(-81.5)" x="-1.1" y="4.5" fill="#000">–6%</text>
<text transform="translate(349.19 317.51) rotate(-81.5)" x="-1.1" y="4.5" fill="#000">–13%</text>
<text class="lab" transform="translate(503.19 342.75) rotate(-81)" textLength="33" lengthAdjust="spacingAndGlyphs">Zero def</text>
<text transform="translate(465.35 399.57) rotate(-65.5)" x="0.1" y="4.5" fill="#000">14%</text>
<text transform="translate(440.6 388.29) rotate(-65.5)" x="-1.1" y="4.5" fill="#fff">–54%</text>
<text transform="translate(415.85 377.01) rotate(-65.5)" x="-1.1" y="4.5" fill="#fff">–84%</text>
<text transform="translate(391.09 365.73) rotate(-65.5)" x="0.1" y="4.5" fill="#000">4%</text>
<text transform="translate(366.34 354.45) rotate(-65.5)" x="-1.1" y="4.5" fill="#000">–22%</text>
<text transform="translate(341.59 343.17) rotate(-65.5)" x="-1.1" y="4.5" fill="#000">–11%</text>
<text class="lab" transform="translate(482.11 411.08) rotate(-64.7)" textLength="35.5" lengthAdjust="spacingAndGlyphs">GHG $10</text>
<text transform="translate(430.63 454.07) rotate(-49.5)" x="0.1" y="4.5" fill="#000">21%</text>
<text transform="translate(409.95 436.4) rotate(-49.5)" x="-1.1" y="4.5" fill="#fff">–52%</text>
<text transform="translate(389.26 418.74) rotate(-49.5)" x="-1.1" y="4.5" fill="#fff">–100%</text>
<text transform="translate(368.58 401.07) rotate(-49.5)" x="0.1" y="4.5" fill="#000">7%</text>
<text transform="translate(347.9 383.41) rotate(-49.5)" x="-1.1" y="4.5" fill="#000">–6%</text>
<text transform="translate(327.21 365.74) rotate(-49.5)" x="-1.1" y="4.5" fill="#000">–11%</text>
<text class="lab" transform="translate(444.44 468.76) rotate(-49)" textLength="60.3" lengthAdjust="spacingAndGlyphs">Zero def/grslnd</text>
<text transform="translate(382.23 496.89) rotate(-33.5)" x="0.1" y="4.5" fill="#000">19%</text>
<text transform="translate(367.22 474.2) rotate(-33.5)" x="-1.1" y="4.5" fill="#fff">–83%</text>
<text transform="translate(352.21 451.52) rotate(-33.5)" x="-1.1" y="4.5" fill="#fff">–37%</text>
<text transform="translate(337.19 428.84) rotate(-33.5)" x="0.1" y="4.5" fill="#000">7%</text>
<text transform="translate(322.18 406.16) rotate(-33.5)" x="-1.1" y="4.5" fill="#000">–6%</text>
<text transform="translate(307.17 383.48) rotate(-33.5)" x="-1.1" y="4.5" fill="#000">–9%</text>
<text class="lab" transform="translate(393.3 513.61) rotate(-33.5)" textLength="51.3" lengthAdjust="spacingAndGlyphs">Biodiversity+</text>
<text transform="translate(323.91 524.71) rotate(-17.5)" x="0.1" y="4.5" fill="#000">4%</text>
<text transform="translate(315.73 498.76) rotate(-17.5)" x="-1.1" y="4.5" fill="#fff">–70%</text>
<text transform="translate(307.55 472.82) rotate(-17.5)" x="-1.1" y="4.5" fill="#fff">–99%</text>
<text transform="translate(299.37 446.88) rotate(-17.5)" x="0.1" y="4.5" fill="#000">4%</text>
<text transform="translate(291.19 420.94) rotate(-17.5)" x="-1.1" y="4.5" fill="#000">–32%</text>
<text transform="translate(283.01 395) rotate(-17.5)" x="-1.1" y="4.5" fill="#000">–7%</text>
<text class="lab" transform="translate(329.94 543.83) rotate(-17.5)" textLength="35.5" lengthAdjust="spacingAndGlyphs">GHG $50</text>
<text transform="translate(180.44 523.45) rotate(18.5)" x="0.1" y="4.5" fill="#000">24%</text>
<text transform="translate(189.07 497.66) rotate(18.5)" x="-1.1" y="4.5" fill="#000">–22%</text>
<text transform="translate(197.7 471.86) rotate(18.5)" x="0.1" y="4.5" fill="#000">31%</text>
<text transform="translate(206.33 446.07) rotate(18.5)" x="0.1" y="4.5" fill="#000">4%</text>
<text transform="translate(214.96 420.28) rotate(18.5)" x="0.1" y="4.5" fill="#000">11%</text>
<text transform="translate(223.59 394.48) rotate(18.5)" x="-1.1" y="4.5" fill="#000">–13%</text>
<text class="lab" transform="translate(171.58 541.62) rotate(19.1)" textLength="11.5" lengthAdjust="spacingAndGlyphs">NA</text>
<text transform="translate(122.61 494.62) rotate(34.5)" x="0.1" y="4.5" fill="#000">24%</text>
<text transform="translate(138.02 472.2) rotate(34.5)" x="-1.1" y="4.5" fill="#000">–27%</text>
<text transform="translate(153.42 449.79) rotate(34.5)" x="0.1" y="4.5" fill="#000">26%</text>
<text transform="translate(168.83 427.37) rotate(34.5)" x="0.1" y="4.5" fill="#000">4%</text>
<text transform="translate(184.23 404.96) rotate(34.5)" x="0.1" y="4.5" fill="#000">10%</text>
<text transform="translate(199.64 382.54) rotate(34.5)" x="-1.1" y="4.5" fill="#000">–13%</text>
<text class="lab" transform="translate(111.25 511.14) rotate(34.5)" textLength="45.4" lengthAdjust="spacingAndGlyphs">Biodiversity</text>
<text transform="translate(74.97 450.97) rotate(50.5)" x="0.1" y="4.5" fill="#000">14%</text>
<text transform="translate(95.96 433.66) rotate(50.5)" x="-1.1" y="4.5" fill="#000">–19%</text>
<text transform="translate(116.94 416.36) rotate(50.5)" x="0.1" y="4.5" fill="#000">41%</text>
<text transform="translate(137.93 399.06) rotate(50.5)" x="0.1" y="4.5" fill="#000">3%</text>
<text transform="translate(158.92 381.76) rotate(50.5)" x="0.1" y="4.5" fill="#000">12%</text>
<text transform="translate(179.91 364.46) rotate(50.5)" x="-1.1" y="4.5" fill="#000">–14%</text>
<text class="lab" transform="translate(59.5 463.72) rotate(50.5)" textLength="56.4" lengthAdjust="spacingAndGlyphs">High flexibility</text>
<text transform="translate(41.2 395.87) rotate(66.5)" x="0.1" y="4.5" fill="#000">25%</text>
<text transform="translate(66.15 385.02) rotate(66.5)" x="-1.1" y="4.5" fill="#000">–26%</text>
<text transform="translate(91.09 374.18) rotate(66.5)" x="0.1" y="4.5" fill="#000">19%</text>
<text transform="translate(116.04 363.33) rotate(66.5)" x="0.1" y="4.5" fill="#000">3%</text>
<text transform="translate(140.98 352.49) rotate(66.5)" x="0.1" y="4.5" fill="#000">7%</text>
<text transform="translate(165.92 341.64) rotate(66.5)" x="-1.1" y="4.5" fill="#000">–15%</text>
<text class="lab" transform="translate(21.95 401.84) rotate(67)" textLength="46" lengthAdjust="spacingAndGlyphs">+30% yield</text>
<text transform="translate(23.94 333.6) rotate(82.5)" x="0.1" y="4.5" fill="#000">26%</text>
<text transform="translate(50.9 330.05) rotate(82.5)" x="-1.1" y="4.5" fill="#000">–26%</text>
<text transform="translate(77.87 326.5) rotate(82.5)" x="0.1" y="4.5" fill="#000">13%</text>
<text transform="translate(104.84 322.95) rotate(82.5)" x="0.1" y="4.5" fill="#000">2%</text>
<text transform="translate(131.81 319.4) rotate(82.5)" x="0.1" y="4.5" fill="#000">5%</text>
<text transform="translate(158.77 315.85) rotate(82.5)" x="-1.1" y="4.5" fill="#000">–16%</text>
<text class="lab" transform="translate(3.81 334.25) rotate(82.95)" textLength="46" lengthAdjust="spacingAndGlyphs">+50% yield</text>
<text transform="translate(24.5 268.99) rotate(-81.5)" x="0.1" y="4.5" fill="#000">23%</text>
<text transform="translate(51.4 273.01) rotate(-81.5)" x="-1.1" y="4.5" fill="#fff">–36%</text>
<text transform="translate(78.3 277.03) rotate(-81.5)" x="-1.1" y="4.5" fill="#fff">–100%</text>
<text transform="translate(105.2 281.05) rotate(-81.5)" x="0.1" y="4.5" fill="#000">4%</text>
<text transform="translate(132.1 285.07) rotate(-81.5)" x="-1.1" y="4.5" fill="#000">–6%</text>
<text transform="translate(159.01 289.09) rotate(-81.5)" x="-1.1" y="4.5" fill="#000">–13%</text>
<text class="lab" transform="translate(10.91 270.42) rotate(-82.3)" textLength="33" lengthAdjust="spacingAndGlyphs">Zero def</text>
<text transform="translate(42.85 207.03) rotate(-65.5)" x="0.1" y="4.5" fill="#000">19%</text>
<text transform="translate(67.6 218.31) rotate(-65.5)" x="-1.1" y="4.5" fill="#fff">–83%</text>
<text transform="translate(92.35 229.59) rotate(-65.5)" x="-1.1" y="4.5" fill="#fff">–37%</text>
<text transform="translate(117.11 240.87) rotate(-65.5)" x="0.1" y="4.5" fill="#000">7%</text>
<text transform="translate(141.86 252.15) rotate(-65.5)" x="-1.1" y="4.5" fill="#000">–6%</text>
<text transform="translate(166.61 263.43) rotate(-65.5)" x="-1.1" y="4.5" fill="#000">–9%</text>
<text class="lab" transform="translate(30.8 201.53) rotate(-65.5)" textLength="51.3" lengthAdjust="spacingAndGlyphs">Biodiversity+</text>
<text transform="translate(77.57 152.53) rotate(-49.5)" x="0.1" y="4.5" fill="#000">21%</text>
<text transform="translate(98.25 170.2) rotate(-49.5)" x="-1.1" y="4.5" fill="#fff">–52%</text>
<text transform="translate(118.94 187.86) rotate(-49.5)" x="-1.1" y="4.5" fill="#fff">–100%</text>
<text transform="translate(139.62 205.53) rotate(-49.5)" x="0.1" y="4.5" fill="#000">7%</text>
<text transform="translate(160.3 223.19) rotate(-49.5)" x="-1.1" y="4.5" fill="#000">–6%</text>
<text transform="translate(180.99 240.86) rotate(-49.5)" x="-1.1" y="4.5" fill="#000">–11%</text>
<text class="lab" transform="translate(66.53 145.07) rotate(-49.85)" textLength="60.3" lengthAdjust="spacingAndGlyphs">Zero def/grslnd</text>
<text transform="translate(125.97 109.71) rotate(-33.5)" x="0.1" y="4.5" fill="#000">14%</text>
<text transform="translate(140.98 132.4) rotate(-33.5)" x="-1.1" y="4.5" fill="#fff">–54%</text>
<text transform="translate(155.99 155.08) rotate(-33.5)" x="-1.1" y="4.5" fill="#fff">–84%</text>
<text transform="translate(171.01 177.76) rotate(-33.5)" x="0.1" y="4.5" fill="#000">4%</text>
<text transform="translate(186.02 200.44) rotate(-33.5)" x="-1.1" y="4.5" fill="#000">–22%</text>
<text transform="translate(201.03 223.12) rotate(-33.5)" x="-1.1" y="4.5" fill="#000">–11%</text>
<text class="lab" transform="translate(117.05 99.73) rotate(-33.95)" textLength="35.5" lengthAdjust="spacingAndGlyphs">GHG $10</text>
<text transform="translate(184.29 81.89) rotate(-17.5)" x="0.1" y="4.5" fill="#000">4%</text>
<text transform="translate(192.47 107.84) rotate(-17.5)" x="-1.1" y="4.5" fill="#fff">–70%</text>
<text transform="translate(200.65 133.78) rotate(-17.5)" x="-1.1" y="4.5" fill="#fff">–99%</text>
<text transform="translate(208.83 159.72) rotate(-17.5)" x="0.1" y="4.5" fill="#000">4%</text>
<text transform="translate(217.01 185.66) rotate(-17.5)" x="-1.1" y="4.5" fill="#000">–32%</text>
<text transform="translate(225.19 211.6) rotate(-17.5)" x="-1.1" y="4.5" fill="#000">–7%</text>
<text class="lab" transform="translate(178.67 69.78) rotate(-17.9)" textLength="35.5" lengthAdjust="spacingAndGlyphs">GHG $50</text>
</g>
<g class="v">
<text transform="translate(851.13 86.49) rotate(20.46)" x="0.1" y="4.5" fill="#000">65%</text>
<text transform="translate(841.63 111.97) rotate(20.46)" x="-1.1" y="4.5" fill="#000">–3%</text>
<text transform="translate(832.12 137.46) rotate(20.46)" x="0.1" y="4.5" fill="#000">55%</text>
<text transform="translate(822.62 162.94) rotate(20.46)" x="0.1" y="4.5" fill="#000">11%</text>
<text transform="translate(813.11 188.43) rotate(20.46)" x="0.1" y="4.5" fill="#000">30%</text>
<text transform="translate(803.6 213.91) rotate(20.46)" x="0.1" y="4.5" fill="#000">1%</text>
<text class="lab" transform="translate(854.16 73.48) rotate(20.06)" textLength="46" lengthAdjust="spacingAndGlyphs">+50% yield</text>
<text transform="translate(912.98 121.11) rotate(38.02)" x="0.1" y="4.5" fill="#000">60%</text>
<text transform="translate(896.23 142.53) rotate(38.02)" x="0.1" y="4.5" fill="#000">0%</text>
<text transform="translate(879.48 163.96) rotate(38.02)" x="0.1" y="4.5" fill="#000">64%</text>
<text transform="translate(862.72 185.39) rotate(38.02)" x="0.1" y="4.5" fill="#000">12%</text>
<text transform="translate(845.97 206.82) rotate(38.02)" x="0.1" y="4.5" fill="#000">34%</text>
<text transform="translate(829.22 228.25) rotate(38.02)" x="0.1" y="4.5" fill="#000">2%</text>
<text class="lab" transform="translate(919.79 109.62) rotate(37.62)" textLength="46" lengthAdjust="spacingAndGlyphs">+30% yield</text>
<text transform="translate(961.5 172.77) rotate(55.58)" x="0.1" y="4.5" fill="#000">53%</text>
<text transform="translate(939.06 188.15) rotate(55.58)" x="0.1" y="4.5" fill="#000">6%</text>
<text transform="translate(916.63 203.52) rotate(55.58)" x="0.1" y="4.5" fill="#000">74%</text>
<text transform="translate(894.19 218.9) rotate(55.58)" x="0.1" y="4.5" fill="#000">18%</text>
<text transform="translate(871.75 234.27) rotate(55.58)" x="0.1" y="4.5" fill="#000">39%</text>
<text transform="translate(849.31 249.65) rotate(55.58)" x="0.1" y="4.5" fill="#000">6%</text>
<text class="lab" transform="translate(971.46 163.87) rotate(55.18)" textLength="11.5" lengthAdjust="spacingAndGlyphs">NA</text>
<text transform="translate(992.17 236.66) rotate(73.14)" x="0.1" y="4.5" fill="#000">52%</text>
<text transform="translate(966.14 244.55) rotate(73.14)" x="0.1" y="4.5" fill="#000">1%</text>
<text transform="translate(940.11 252.44) rotate(73.14)" x="0.1" y="4.5" fill="#000">67%</text>
<text transform="translate(914.08 260.33) rotate(73.14)" x="0.1" y="4.5" fill="#000">18%</text>
<text transform="translate(888.05 268.22) rotate(73.14)" x="0.1" y="4.5" fill="#000">37%</text>
<text transform="translate(862.02 276.11) rotate(73.14)" x="0.1" y="4.5" fill="#000">6%</text>
<text class="lab" transform="translate(1004.35 231.18) rotate(72.74)" textLength="45.4" lengthAdjust="spacingAndGlyphs">Biodiversity</text>
<text transform="translate(1002.13 306.84) rotate(-89.3)" x="0.1" y="4.5" fill="#000">51%</text>
<text transform="translate(974.93 306.5) rotate(-89.3)" x="-1.1" y="4.5" fill="#000">–15%</text>
<text transform="translate(947.74 306.17) rotate(-89.3)" x="-1.1" y="4.5" fill="#fff">–100%</text>
<text transform="translate(920.54 305.84) rotate(-89.3)" x="0.1" y="4.5" fill="#000">19%</text>
<text transform="translate(893.34 305.51) rotate(-89.3)" x="0.1" y="4.5" fill="#000">4%</text>
<text transform="translate(866.14 305.17) rotate(-89.3)" x="0.1" y="4.5" fill="#000">8%</text>
<text class="lab" transform="translate(1022.61 313.7) rotate(-87.8)" textLength="33" lengthAdjust="spacingAndGlyphs">Zero def</text>
<text transform="translate(990.46 376.74) rotate(-71.74)" x="0.1" y="4.5" fill="#000">44%</text>
<text transform="translate(964.63 368.22) rotate(-71.74)" x="-1.1" y="4.5" fill="#000">–27%</text>
<text transform="translate(938.8 359.7) rotate(-71.74)" x="-1.1" y="4.5" fill="#fff">–64%</text>
<text transform="translate(912.97 351.17) rotate(-71.74)" x="0.1" y="4.5" fill="#000">18%</text>
<text transform="translate(887.14 342.65) rotate(-71.74)" x="0.1" y="4.5" fill="#000">2%</text>
<text transform="translate(861.31 334.13) rotate(-71.74)" x="0.1" y="4.5" fill="#000">9%</text>
<text class="lab" transform="translate(1009.43 383.23) rotate(-71.69)" textLength="35.5" lengthAdjust="spacingAndGlyphs">GHG $10</text>
<text transform="translate(958.24 439.87) rotate(-54.18)" x="0.1" y="4.5" fill="#000">47%</text>
<text transform="translate(936.18 423.95) rotate(-54.18)" x="-1.1" y="4.5" fill="#fff">–38%</text>
<text transform="translate(914.13 408.03) rotate(-54.18)" x="-1.1" y="4.5" fill="#fff">–100%</text>
<text transform="translate(892.07 392.11) rotate(-54.18)" x="0.1" y="4.5" fill="#000">23%</text>
<text transform="translate(870.02 376.19) rotate(-54.18)" x="0.1" y="4.5" fill="#000">6%</text>
<text transform="translate(847.96 360.27) rotate(-54.18)" x="0.1" y="4.5" fill="#000">12%</text>
<text class="lab" transform="translate(973.46 453.03) rotate(-53.78)" textLength="60.3" lengthAdjust="spacingAndGlyphs">Zero def/grslnd</text>
<text transform="translate(908.47 490.33) rotate(-36.62)" x="0.1" y="4.5" fill="#000">33%</text>
<text transform="translate(892.25 468.5) rotate(-36.62)" x="-1.1" y="4.5" fill="#fff">–54%</text>
<text transform="translate(876.02 446.67) rotate(-36.62)" x="-1.1" y="4.5" fill="#fff">–98%</text>
<text transform="translate(859.8 424.84) rotate(-36.62)" x="0.1" y="4.5" fill="#000">18%</text>
<text transform="translate(843.57 403.01) rotate(-36.62)" x="-1.1" y="4.5" fill="#000">–21%</text>
<text transform="translate(827.35 381.17) rotate(-36.62)" x="0.1" y="4.5" fill="#000">15%</text>
<text class="lab" transform="translate(919.01 507.47) rotate(-36.22)" textLength="35.5" lengthAdjust="spacingAndGlyphs">GHG $50</text>
<text transform="translate(845.8 523.43) rotate(-19.06)" x="0.1" y="4.5" fill="#000">43%</text>
<text transform="translate(836.91 497.72) rotate(-19.06)" x="-1.1" y="4.5" fill="#fff">–68%</text>
<text transform="translate(828.03 472.01) rotate(-19.06)" x="-1.1" y="4.5" fill="#fff">–46%</text>
<text transform="translate(819.15 446.3) rotate(-19.06)" x="0.1" y="4.5" fill="#000">24%</text>
<text transform="translate(810.27 420.59) rotate(-19.06)" x="0.1" y="4.5" fill="#000">3%</text>
<text transform="translate(801.39 394.88) rotate(-19.06)" x="0.1" y="4.5" fill="#000">17%</text>
<text class="lab" transform="translate(850.68 542.95) rotate(-18.66)" textLength="51.3" lengthAdjust="spacingAndGlyphs">Biodiversity+</text>
<text transform="translate(688.87 521.51) rotate(20.46)" x="0.1" y="4.5" fill="#000">53%</text>
<text transform="translate(698.37 496.03) rotate(20.46)" x="0.1" y="4.5" fill="#000">6%</text>
<text transform="translate(707.88 470.54) rotate(20.46)" x="0.1" y="4.5" fill="#000">74%</text>
<text transform="translate(717.38 445.06) rotate(20.46)" x="0.1" y="4.5" fill="#000">18%</text>
<text transform="translate(726.89 419.57) rotate(20.46)" x="0.1" y="4.5" fill="#000">39%</text>
<text transform="translate(736.4 394.09) rotate(20.46)" x="0.1" y="4.5" fill="#000">6%</text>
<text class="lab" transform="translate(678.98 539.2) rotate(21.16)" textLength="11.5" lengthAdjust="spacingAndGlyphs">NA</text>
<text transform="translate(627.02 486.89) rotate(38.02)" x="0.1" y="4.5" fill="#000">52%</text>
<text transform="translate(643.77 465.47) rotate(38.02)" x="0.1" y="4.5" fill="#000">1%</text>
<text transform="translate(660.52 444.04) rotate(38.02)" x="0.1" y="4.5" fill="#000">67%</text>
<text transform="translate(677.28 422.61) rotate(38.02)" x="0.1" y="4.5" fill="#000">18%</text>
<text transform="translate(694.03 401.18) rotate(38.02)" x="0.1" y="4.5" fill="#000">37%</text>
<text transform="translate(710.78 379.75) rotate(38.02)" x="0.1" y="4.5" fill="#000">6%</text>
<text class="lab" transform="translate(614.67 502.69) rotate(38.02)" textLength="45.4" lengthAdjust="spacingAndGlyphs">Biodiversity</text>
<text transform="translate(578.5 435.23) rotate(55.58)" x="0.1" y="4.5" fill="#000">60%</text>
<text transform="translate(600.94 419.85) rotate(55.58)" x="0.1" y="4.5" fill="#000">0%</text>
<text transform="translate(623.37 404.48) rotate(55.58)" x="0.1" y="4.5" fill="#000">64%</text>
<text transform="translate(645.81 389.1) rotate(55.58)" x="0.1" y="4.5" fill="#000">12%</text>
<text transform="translate(668.25 373.73) rotate(55.58)" x="0.1" y="4.5" fill="#000">34%</text>
<text transform="translate(690.69 358.35) rotate(55.58)" x="0.1" y="4.5" fill="#000">2%</text>
<text class="lab" transform="translate(560.97 445.11) rotate(55.98)" textLength="46" lengthAdjust="spacingAndGlyphs">+30% yield</text>
<text transform="translate(547.83 371.34) rotate(73.14)" x="0.1" y="4.5" fill="#000">65%</text>
<text transform="translate(573.86 363.45) rotate(73.14)" x="-1.1" y="4.5" fill="#000">–3%</text>
<text transform="translate(599.89 355.56) rotate(73.14)" x="0.1" y="4.5" fill="#000">55%</text>
<text transform="translate(625.92 347.67) rotate(73.14)" x="0.1" y="4.5" fill="#000">11%</text>
<text transform="translate(651.95 339.78) rotate(73.14)" x="0.1" y="4.5" fill="#000">30%</text>
<text transform="translate(677.98 331.89) rotate(73.14)" x="0.1" y="4.5" fill="#000">1%</text>
<text class="lab" transform="translate(528.58 376.94) rotate(73.19)" textLength="46" lengthAdjust="spacingAndGlyphs">+50% yield</text>
<text transform="translate(537.87 301.16) rotate(-89.3)" x="0.1" y="4.5" fill="#000">51%</text>
<text transform="translate(565.07 301.5) rotate(-89.3)" x="-1.1" y="4.5" fill="#000">–15%</text>
<text transform="translate(592.26 301.83) rotate(-89.3)" x="-1.1" y="4.5" fill="#fff">–100%</text>
<text transform="translate(619.46 302.16) rotate(-89.3)" x="0.1" y="4.5" fill="#000">19%</text>
<text transform="translate(646.66 302.49) rotate(-89.3)" x="0.1" y="4.5" fill="#000">4%</text>
<text transform="translate(673.86 302.83) rotate(-89.3)" x="0.1" y="4.5" fill="#000">8%</text>
<text class="lab" transform="translate(517.52 293.42) rotate(92.4)" textLength="33" lengthAdjust="spacingAndGlyphs">Zero def</text>
<text transform="translate(549.54 231.26) rotate(-71.74)" x="0.1" y="4.5" fill="#000">47%</text>
<text transform="translate(575.37 239.78) rotate(-71.74)" x="-1.1" y="4.5" fill="#fff">–38%</text>
<text transform="translate(601.2 248.3) rotate(-71.74)" x="-1.1" y="4.5" fill="#fff">–100%</text>
<text transform="translate(627.03 256.83) rotate(-71.74)" x="0.1" y="4.5" fill="#000">23%</text>
<text transform="translate(652.86 265.35) rotate(-71.74)" x="0.1" y="4.5" fill="#000">6%</text>
<text transform="translate(678.69 273.87) rotate(-71.74)" x="0.1" y="4.5" fill="#000">12%</text>
<text class="lab" transform="translate(536.43 228.73) rotate(-72.14)" textLength="60.3" lengthAdjust="spacingAndGlyphs">Zero def/grslnd</text>
<text transform="translate(581.76 168.13) rotate(-54.18)" x="0.1" y="4.5" fill="#000">44%</text>
<text transform="translate(603.82 184.05) rotate(-54.18)" x="-1.1" y="4.5" fill="#000">–27%</text>
<text transform="translate(625.87 199.97) rotate(-54.18)" x="-1.1" y="4.5" fill="#fff">–64%</text>
<text transform="translate(647.93 215.89) rotate(-54.18)" x="0.1" y="4.5" fill="#000">18%</text>
<text transform="translate(669.98 231.81) rotate(-54.18)" x="0.1" y="4.5" fill="#000">2%</text>
<text transform="translate(692.04 247.73) rotate(-54.18)" x="0.1" y="4.5" fill="#000">9%</text>
<text class="lab" transform="translate(571.77 159.34) rotate(-53.88)" textLength="35.5" lengthAdjust="spacingAndGlyphs">GHG $10</text>
<text transform="translate(631.53 117.67) rotate(-36.62)" x="0.1" y="4.5" fill="#000">43%</text>
<text transform="translate(647.75 139.5) rotate(-36.62)" x="-1.1" y="4.5" fill="#fff">–68%</text>
<text transform="translate(663.98 161.33) rotate(-36.62)" x="-1.1" y="4.5" fill="#fff">–46%</text>
<text transform="translate(680.2 183.16) rotate(-36.62)" x="0.1" y="4.5" fill="#000">24%</text>
<text transform="translate(696.43 204.99) rotate(-36.62)" x="0.1" y="4.5" fill="#000">3%</text>
<text transform="translate(712.65 226.83) rotate(-36.62)" x="0.1" y="4.5" fill="#000">17%</text>
<text class="lab" transform="translate(625.01 106.02) rotate(-36.22)" textLength="51.3" lengthAdjust="spacingAndGlyphs">Biodiversity+</text>
<text transform="translate(694.2 84.57) rotate(-19.06)" x="0.1" y="4.5" fill="#000">33%</text>
<text transform="translate(703.09 110.28) rotate(-19.06)" x="-1.1" y="4.5" fill="#fff">–54%</text>
<text transform="translate(711.97 135.99) rotate(-19.06)" x="-1.1" y="4.5" fill="#fff">–98%</text>
<text transform="translate(720.85 161.7) rotate(-19.06)" x="0.1" y="4.5" fill="#000">18%</text>
<text transform="translate(729.73 187.41) rotate(-19.06)" x="-1.1" y="4.5" fill="#000">–21%</text>
<text transform="translate(738.61 213.12) rotate(-19.06)" x="0.1" y="4.5" fill="#000">15%</text>
<text class="lab" transform="translate(689.47 72.19) rotate(-19.16)" textLength="35.5" lengthAdjust="spacingAndGlyphs">GHG $50</text>
</g>
<g>
<text class="rl" x="255" y="80.1" textLength="37.5" lengthAdjust="spacingAndGlyphs">Fertilizer</text>
<text class="rl" x="255" y="105.5" textLength="50.9" lengthAdjust="spacingAndGlyphs">Biodiversity</text>
<text class="rl" x="255" y="132.6" textLength="57.1" lengthAdjust="spacingAndGlyphs">Deforestation</text>
<text class="rl" x="255" y="160.6" textLength="44.3" lengthAdjust="spacingAndGlyphs">Water use</text>
<text class="rl" x="255" y="186" textLength="41.7" lengthAdjust="spacingAndGlyphs">Emissions</text>
<text class="rl" x="255" y="211.4" textLength="15.5" lengthAdjust="spacingAndGlyphs">FPI</text>
<text class="rl" x="253.1" y="537.6" textLength="37.5" lengthAdjust="spacingAndGlyphs">Fertilizer</text>
<text class="rl" x="253.1" y="508.5" textLength="50.9" lengthAdjust="spacingAndGlyphs">Biodiversity</text>
<text class="rl" x="253.1" y="483.1" textLength="57.1" lengthAdjust="spacingAndGlyphs">Deforestation</text>
<text class="rl" x="253.1" y="455.7" textLength="44.3" lengthAdjust="spacingAndGlyphs">Water use</text>
<text class="rl" x="253.1" y="428.6" textLength="41.7" lengthAdjust="spacingAndGlyphs">Emissions</text>
<text class="rl" x="253.1" y="403.4" textLength="15.5" lengthAdjust="spacingAndGlyphs">FPI</text>
<text class="rl" x="770.9" y="80.6" textLength="37.5" lengthAdjust="spacingAndGlyphs">Fertilizer</text>
<text class="rl" x="770.9" y="106" textLength="50.9" lengthAdjust="spacingAndGlyphs">Biodiversity</text>
<text class="rl" x="770.9" y="133.1" textLength="57.1" lengthAdjust="spacingAndGlyphs">Deforestation</text>
<text class="rl" x="770.9" y="161.1" textLength="44.3" lengthAdjust="spacingAndGlyphs">Water use</text>
<text class="rl" x="770.9" y="186.5" textLength="41.7" lengthAdjust="spacingAndGlyphs">Emissions</text>
<text class="rl" x="770.9" y="211.9" textLength="15.5" lengthAdjust="spacingAndGlyphs">FPI</text>
<text class="rl" x="769" y="538.2" textLength="37.5" lengthAdjust="spacingAndGlyphs">Fertilizer</text>
<text class="rl" x="769" y="509.1" textLength="50.9" lengthAdjust="spacingAndGlyphs">Biodiversity</text>
<text class="rl" x="769" y="483.7" textLength="57.1" lengthAdjust="spacingAndGlyphs">Deforestation</text>
<text class="rl" x="769" y="456.3" textLength="44.3" lengthAdjust="spacingAndGlyphs">Water use</text>
<text class="rl" x="769" y="429.2" textLength="41.7" lengthAdjust="spacingAndGlyphs">Emissions</text>
<text class="rl" x="769" y="404" textLength="15.5" lengthAdjust="spacingAndGlyphs">FPI</text>
</g>
<g transform="translate(212.5 303.4)"><circle r="28.7" fill="#7b7d80"/><circle r="26.6" fill="none" stroke="#b9babc" stroke-width="0.7"/><circle cx="-0.9" cy="0.9" r="24" fill="none" stroke="#b0b2b4" stroke-width="0.8"/><path transform="translate(1.7 2)" d="M-19.5 12.5V8.5C-22 8 -22.5 5 -20.5 4.2C-21 1.5 -17.5 0.5 -16 2.2C-14 0.2 -10.5 2 -11.5 4.5C-9.5 5.5 -10 8.3 -12.5 8.6 L-12.5 22 M-17 9V19.5" fill="none" stroke="#fff" stroke-width="0.7"/><path transform="translate(2.2 0.6)" d="M12.5 22V10.5C10.8 10 10.8 7.5 12.5 7 M15 -6.5C17.5 -8.5 21 -6.5 20 -3.5C23 -3 24 1 21.5 2.5C23.5 5 21.5 8.5 18.5 7.8C18 9.5 16 10 15.5 9.5V20.5" fill="none" stroke="#fff" stroke-width="0.7"/><g fill="#fff"><circle cx="-0.5" cy="-10.8" r="6.2"/><circle cx="-10.6" cy="-3.6" r="5.7"/><circle cx="9.6" cy="-3.2" r="5.6"/><circle cx="-6.6" cy="4.6" r="5.6"/><circle cx="6.2" cy="4.8" r="5.4"/><circle cx="-0.5" cy="-2" r="8.5"/><circle cx="0" cy="3.5" r="6"/><path d="M-2.4 8 L-1.3 28.4 L3.1 28.3 L4.2 8Z"/></g></g>
<g transform="translate(295.4 303.4)"><circle r="28.7" fill="#7b7d80"/><circle r="26.3" fill="none" stroke="#b4b6b8" stroke-width="0.6"/><circle r="24.6" fill="none" stroke="#94969a" stroke-width="0.6"/><circle r="22.4" fill="none" stroke="#c4c5c7" stroke-width="0.8"/><path fill="#fff" d="M-4 27.6V5.5C-6.3 4.6 -7.3 3 -7.3 0.5V-9.8H-6.2V-1.5H-5.2V-9.8H-4.1V-1.5H-3.1V-9.8H-2V-1.5H-1V-9.8H0.1V0.5C0.1 3 -0.9 4.6 -2.6 5.5V27.8Z"/><path fill="#fff" d="M1 -14.8C5 -12 10.5 -6.5 14.8 -0.8L27 9.3L25.8 10.6L13.5 1.2C8.5 0.5 3.5 -4 1.8 -9.5C1.2 -11.5 0.9 -13.5 1 -14.8Z"/></g>
<g transform="translate(727.9 303.7)"><circle r="28.7" fill="#7b7d80"/><circle r="26.6" fill="none" stroke="#b9babc" stroke-width="0.7"/><circle cx="-0.9" cy="0.9" r="24" fill="none" stroke="#b0b2b4" stroke-width="0.8"/><path transform="translate(1.7 2)" d="M-19.5 12.5V8.5C-22 8 -22.5 5 -20.5 4.2C-21 1.5 -17.5 0.5 -16 2.2C-14 0.2 -10.5 2 -11.5 4.5C-9.5 5.5 -10 8.3 -12.5 8.6 L-12.5 22 M-17 9V19.5" fill="none" stroke="#fff" stroke-width="0.7"/><path transform="translate(2.2 0.6)" d="M12.5 22V10.5C10.8 10 10.8 7.5 12.5 7 M15 -6.5C17.5 -8.5 21 -6.5 20 -3.5C23 -3 24 1 21.5 2.5C23.5 5 21.5 8.5 18.5 7.8C18 9.5 16 10 15.5 9.5V20.5" fill="none" stroke="#fff" stroke-width="0.7"/><g fill="#fff"><circle cx="-0.5" cy="-10.8" r="6.2"/><circle cx="-10.6" cy="-3.6" r="5.7"/><circle cx="9.6" cy="-3.2" r="5.6"/><circle cx="-6.6" cy="4.6" r="5.6"/><circle cx="6.2" cy="4.8" r="5.4"/><circle cx="-0.5" cy="-2" r="8.5"/><circle cx="0" cy="3.5" r="6"/><path d="M-2.4 8 L-1.3 28.4 L3.1 28.3 L4.2 8Z"/></g></g>
<g transform="translate(811.2 303.7)"><circle r="28.7" fill="#7b7d80"/><circle r="26.3" fill="none" stroke="#b4b6b8" stroke-width="0.6"/><circle r="24.6" fill="none" stroke="#94969a" stroke-width="0.6"/><circle r="22.4" fill="none" stroke="#c4c5c7" stroke-width="0.8"/><path fill="#fff" d="M-4 27.6V5.5C-6.3 4.6 -7.3 3 -7.3 0.5V-9.8H-6.2V-1.5H-5.2V-9.8H-4.1V-1.5H-3.1V-9.8H-2V-1.5H-1V-9.8H0.1V0.5C0.1 3 -0.9 4.6 -2.6 5.5V27.8Z"/><path fill="#fff" d="M1 -14.8C5 -12 10.5 -6.5 14.8 -0.8L27 9.3L25.8 10.6L13.5 1.2C8.5 0.5 3.5 -4 1.8 -9.5C1.2 -11.5 0.9 -13.5 1 -14.8Z"/></g>
<g>
<rect x="345.3" y="565.3" width="25.2" height="25" fill="#036c40" stroke="#8c8c7c" stroke-width="0.8"/>
<rect x="376" y="565.3" width="25.2" height="25" fill="#209e5e" stroke="#8c8c7c" stroke-width="0.8"/>
<rect x="408.9" y="565.3" width="25.2" height="25" fill="#62ba6e" stroke="#8c8c7c" stroke-width="0.8"/>
<rect x="439.3" y="565.3" width="25.2" height="25" fill="#9bcd70" stroke="#8c8c7c" stroke-width="0.8"/>
<rect x="469.2" y="565.3" width="25.2" height="25" fill="#cbe088" stroke="#8c8c7c" stroke-width="0.8"/>
<rect x="500.2" y="565.3" width="25.2" height="25" fill="#f8f4b6" stroke="#8c8c7c" stroke-width="0.8"/>
<rect x="532.5" y="565.3" width="25.2" height="25" fill="#fdda82" stroke="#8c8c7c" stroke-width="0.8"/>
<rect x="563.6" y="565.3" width="25.2" height="25" fill="#faa862" stroke="#8c8c7c" stroke-width="0.8"/>
<rect x="594.4" y="565.3" width="25.2" height="25" fill="#f07248" stroke="#8c8c7c" stroke-width="0.8"/>
<rect x="626.9" y="565.3" width="25.2" height="25" fill="#dc3e32" stroke="#8c8c7c" stroke-width="0.8"/>
<rect x="658" y="565.3" width="25.2" height="25" fill="#a21a30" stroke="#8c8c7c" stroke-width="0.8"/>
<text class="lg" x="356.2" y="602" textLength="31.3" lengthAdjust="spacingAndGlyphs"><tspan class="gl">≤</tspan>–45%</text>
<text class="lg" x="393.6" y="602" textLength="26.3" lengthAdjust="spacingAndGlyphs">–35%</text>
<text class="lg" x="425.6" y="602" textLength="26.3" lengthAdjust="spacingAndGlyphs">–25%</text>
<text class="lg" x="456" y="602" textLength="26.3" lengthAdjust="spacingAndGlyphs">–15%</text>
<text class="lg" x="488.5" y="602" textLength="21.1" lengthAdjust="spacingAndGlyphs">–5%</text>
<text class="lg" x="524.4" y="602" textLength="15.1" lengthAdjust="spacingAndGlyphs">5%</text>
<text class="lg" x="554.3" y="602" textLength="19.9" lengthAdjust="spacingAndGlyphs">15%</text>
<text class="lg" x="585.2" y="602" textLength="19.9" lengthAdjust="spacingAndGlyphs">25%</text>
<text class="lg" x="616.7" y="602" textLength="19.9" lengthAdjust="spacingAndGlyphs">35%</text>
<text class="lg" x="644.5" y="602" textLength="25.5" lengthAdjust="spacingAndGlyphs"><tspan class="gl">≥</tspan>45%</text>
</g>
<g>
<text class="tb" x="253.8" y="10.3" textLength="88.6" lengthAdjust="spacingAndGlyphs">Low pressure</text>
<text class="tt" x="248.5" y="28.7" textLength="117" lengthAdjust="spacingAndGlyphs">Diet+/Climate-BE</text>
<text class="tt" x="256.3" y="47.6" textLength="84.7" lengthAdjust="spacingAndGlyphs">(SSP2, 2030)</text>
<text class="tb" x="768.7" y="10.3" textLength="93.1" lengthAdjust="spacingAndGlyphs">High pressure</text>
<text class="tt" x="767" y="28.7" textLength="177.4" lengthAdjust="spacingAndGlyphs">Low flexibility/Climate-BE+</text>
<text class="tt" x="770.1" y="47.6" textLength="84.5" lengthAdjust="spacingAndGlyphs">(SSP2, 2030)</text>
</g>
</svg>
</body></html>
